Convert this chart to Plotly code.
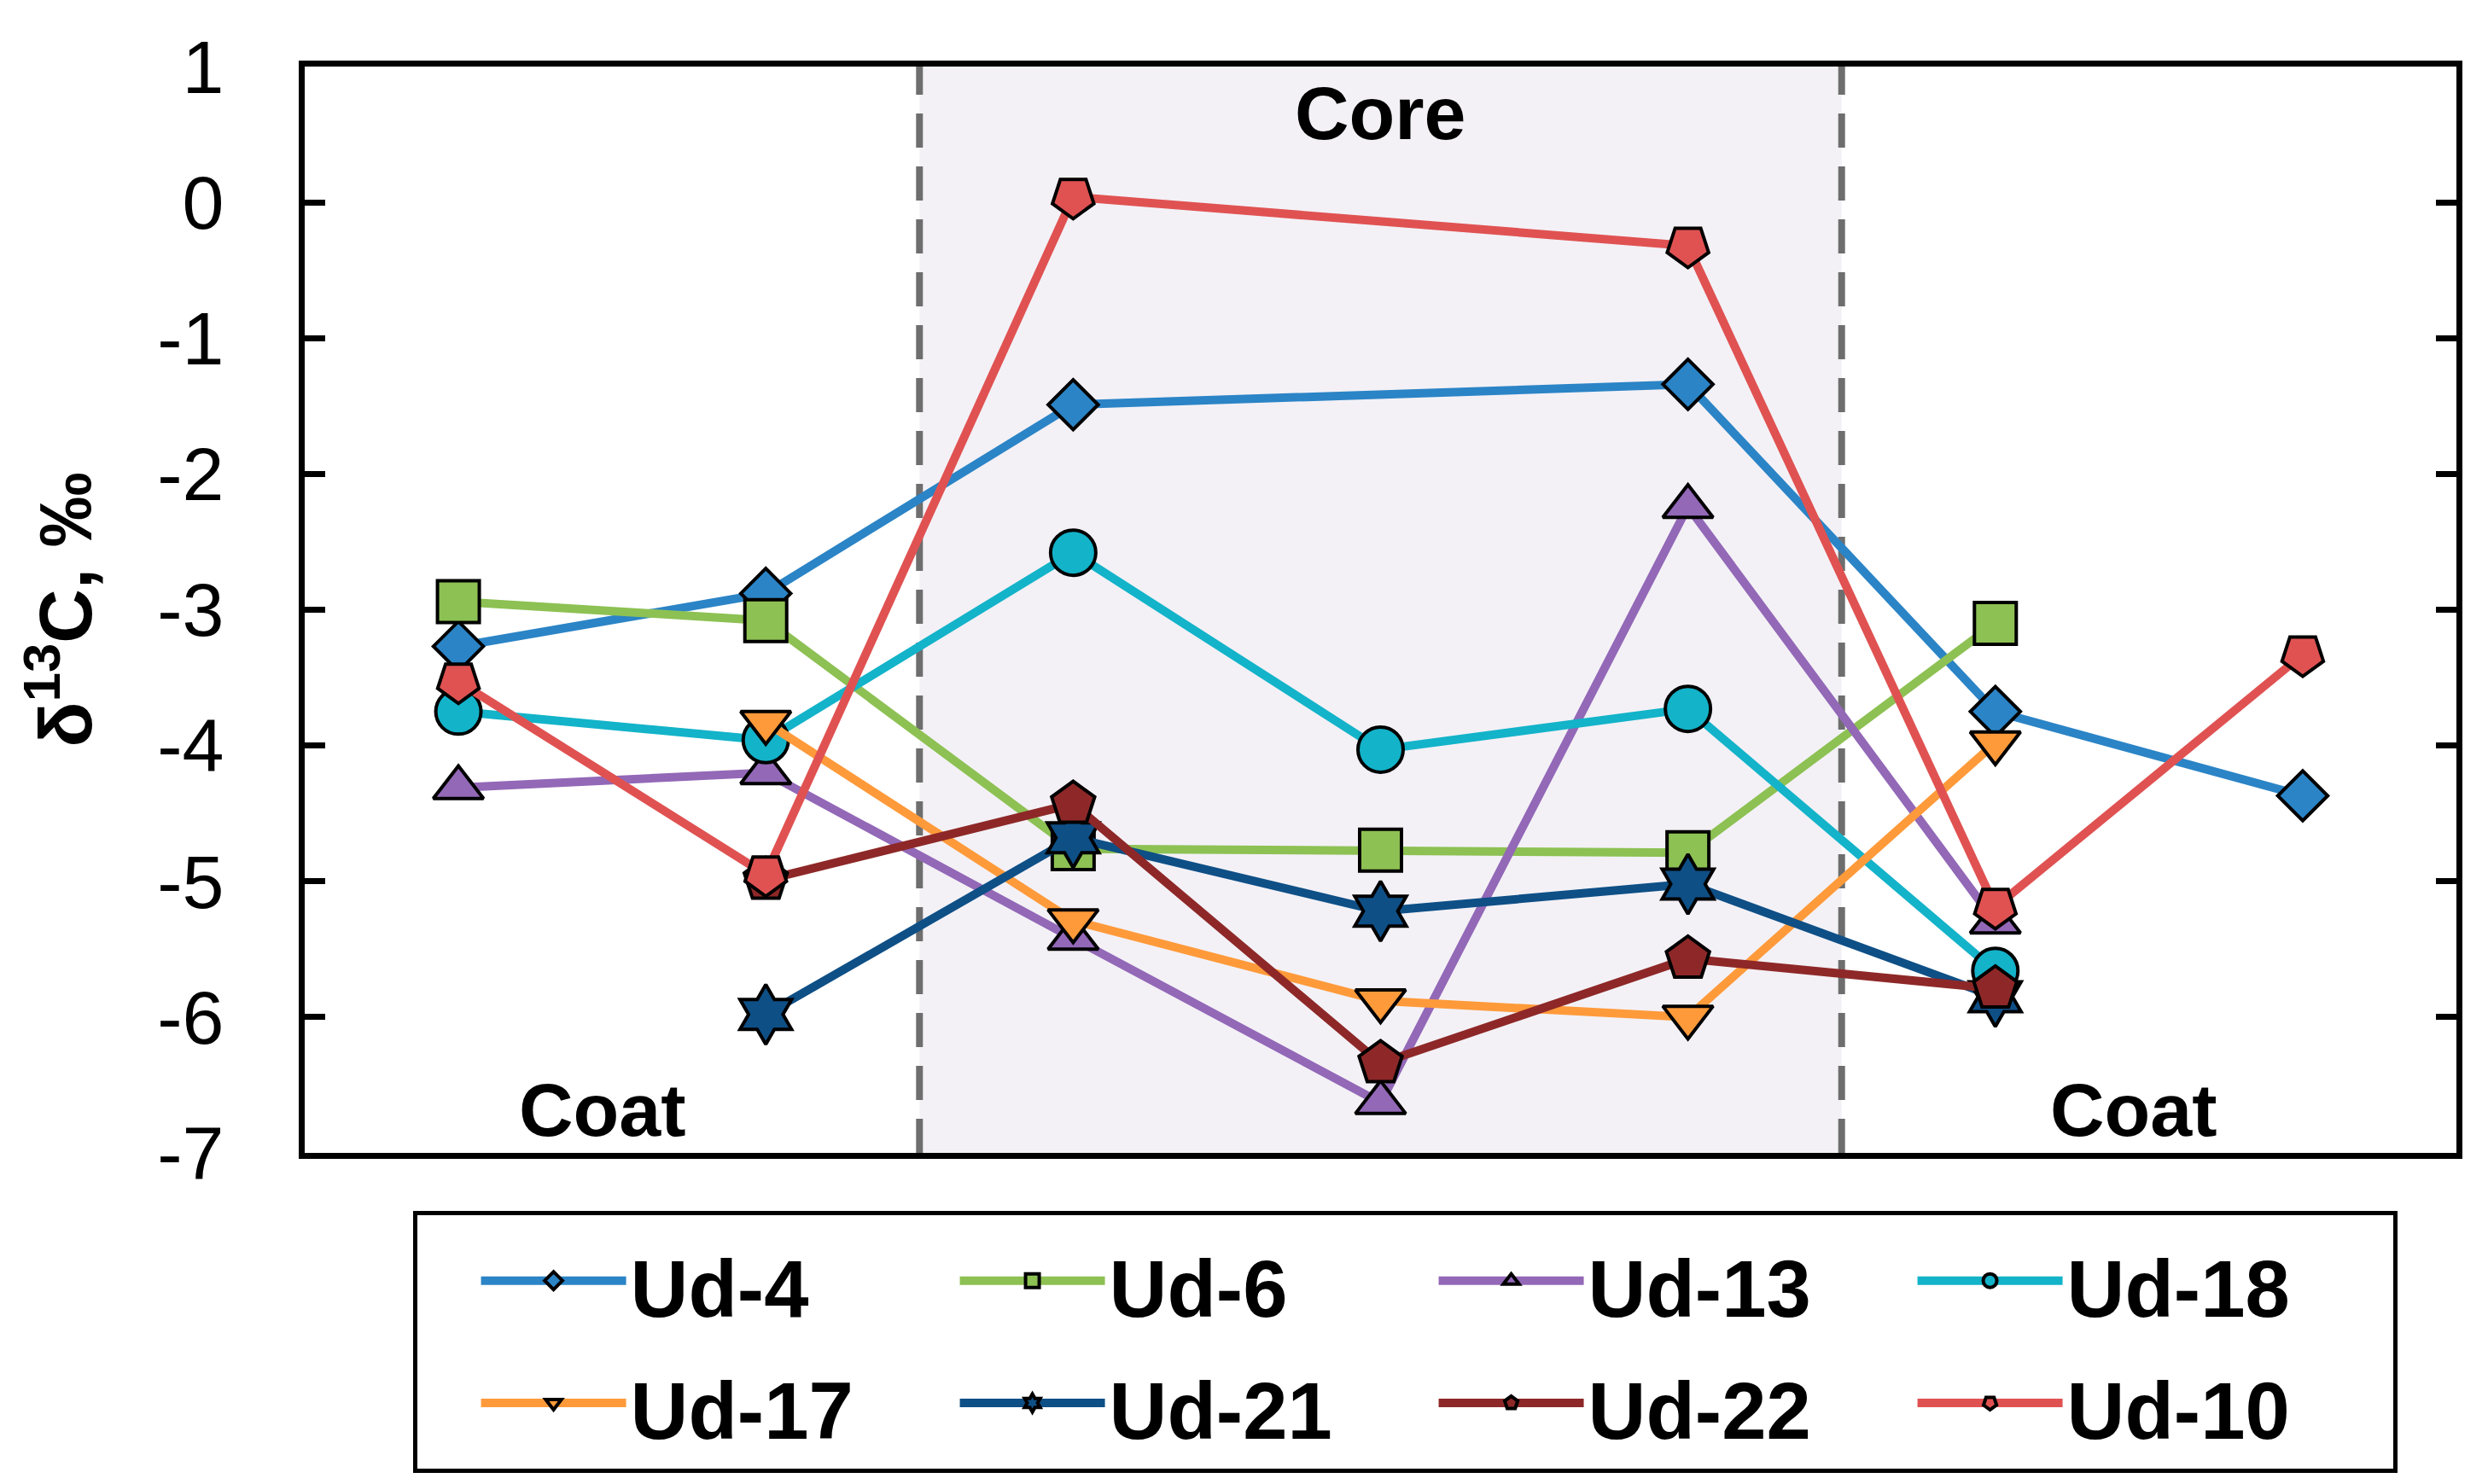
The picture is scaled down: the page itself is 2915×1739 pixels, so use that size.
import plotly.graph_objects as go

positions = [1, 2, 3, 4, 5, 6, 7]

series_names = ["Ud-4", "Ud-6", "Ud-13", "Ud-18", "Ud-17", "Ud-21", "Ud-22", "Ud-10"]

ud4 = [-3.27, -2.88, -1.49, None, -1.34, -3.75, -4.37]
ud6 = [-2.94, -3.08, -4.76, -4.77, -4.79, -3.10, None]
ud13 = [-4.31, -4.20, -5.42, -6.63, -2.24, -5.30, None]
ud18 = [-3.75, -3.96, -2.58, -4.03, -3.73, -5.66, None]
ud17 = [None, -3.83, -5.29, -5.88, -6.00, -3.98, None]
ud21 = [None, -5.98, -4.68, -5.22, -5.02, -5.85, None]
ud22 = [None, -4.99, -4.43, -6.34, -5.57, -5.79, None]
ud10 = [-3.53, -4.95, 0.04, None, -0.32, -5.19, -3.33]

values = [ud4, ud6, ud13, ud18, ud17, ud21, ud22, ud10]

y_tick_values = [1, 0, -1, -2, -3, -4, -5, -6, -7]
y_tick_labels = ["1", "0", "-1", "-2", "-3", "-4", "-5", "-6", "-7"]

colors = ["#2B84C6", "#8DC153", "#9368B7", "#13B3C9", "#FF9A3A", "#0E4F86", "#8E2828", "#E05252"]
symbols = ["diamond", "square", "triangle-up", "circle", "triangle-down", "hexagram", "pentagon", "pentagon"]
angles = [0, 0, 0, 0, 0, 0, 0, 180]
sizes = [45, 49, 51, 53, 51, 53, 53, 51]

zone_labels = ["Coat", "Core", "Coat"]
zone_x = [1.47, 4.0, 6.45]
zone_y = [-6.68, 0.66, -6.68]

FONT = "Liberation Sans, Arial, sans-serif"

fig = go.Figure()

for name, vals, col, sym, ang, sz in zip(series_names, values, colors, symbols, angles, sizes):
    fig.add_trace(go.Scatter(
        x=positions, y=vals, mode="lines+markers",
        name="<span style='font-size:94px'><b>" + name + "</b></span>",
        connectgaps=True,
        line=dict(color=col, width=10),
        marker=dict(symbol=sym, size=sz, color=col, angle=ang,
                    line=dict(color="black", width=4)),
    ))

# core shading and boundaries
fig.add_shape(type="rect", xref="x", yref="paper", x0=2.5, x1=5.5, y0=0, y1=1,
              fillcolor="#F3F1F6", line=dict(width=0), layer="below")
for xb in [2.5, 5.5]:
    fig.add_shape(type="line", xref="x", yref="paper", x0=xb, x1=xb, y0=0, y1=1,
                  line=dict(color="#6E6E6E", width=8, dash="40px,22px"), layer="below")

for t, xx, yy in zip(zone_labels, zone_x, zone_y):
    fig.add_annotation(x=xx, y=yy, xref="x", yref="y", text="<b>" + t + "</b>",
                       showarrow=False, font=dict(family=FONT, size=88, color="black"))

fig.update_layout(
    width=2915, height=1739,
    margin=dict(l=349, r=45, t=70, b=396),
    paper_bgcolor="white", plot_bgcolor="white",
    font=dict(family=FONT, color="black"),
    showlegend=True,
    legend=dict(
        orientation="h", x=0.0502, y=-0.0534, xanchor="left", yanchor="top",
        bordercolor="black", borderwidth=5, bgcolor="white",
        font=dict(family=FONT, size=108, color="black"),
        itemwidth=170, entrywidth=376, entrywidthmode="pixels",
        traceorder="normal",
        title=dict(text="\u00a0\u00a0", side="left", font=dict(family=FONT, size=108)),
    ),
)

fig.update_xaxes(range=[0.5, 7.5], showticklabels=False, ticks="", showgrid=False,
                 zeroline=False, showline=True, linecolor="black", linewidth=7, mirror=True)
fig.update_yaxes(range=[-7, 1], tickvals=y_tick_values, ticktext=y_tick_labels,
                 showgrid=False, zeroline=False,
                 showline=True, linecolor="black", linewidth=7, mirror="ticks",
                 ticks="inside", ticklen=24, tickwidth=7, tickcolor="black",
                 tickfont=dict(family=FONT, size=88, color="black"),
                 ticklabelstandoff=70,
                 title=dict(text="<b>δ<sup>13</sup>C, ‰</b>", standoff=50,
                            font=dict(family=FONT, size=88, color="black")))

fig.write_html("out.html")
